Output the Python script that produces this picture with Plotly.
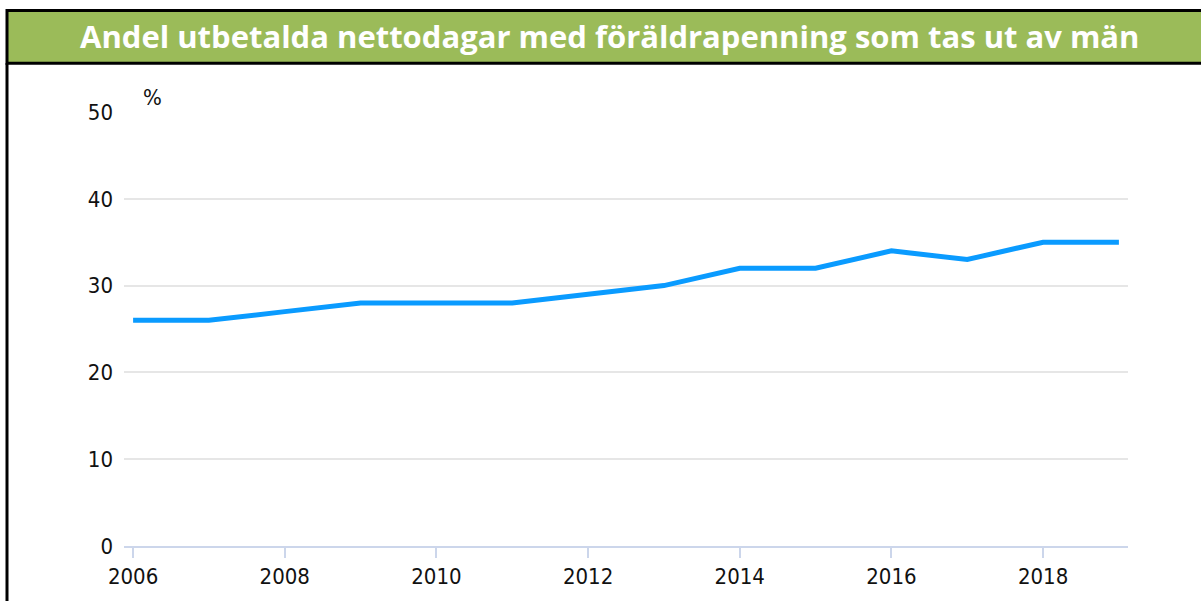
import plotly.graph_objects as go

years = list(range(2006, 2020))
share_men = [26, 26, 27, 28, 28, 28, 29, 30, 32, 32, 34, 33, 35, 35]
y_ticks = [0, 10, 20, 30, 40, 50]
x_ticks = [2006, 2008, 2010, 2012, 2014, 2016, 2018]
title_text = "Andel utbetalda nettodagar med föräldrapenning som tas ut av män"

W, H = 1201, 601
L, R, T, B = 124, 1128, 112, 548

def px(x):
    return (x - L) / (R - L)

def py(y):
    return (B - y) / (B - T)

fig = go.Figure()
fig.add_trace(go.Scatter(
    x=years, y=share_men, mode="lines",
    line=dict(color="#0a9bff", width=5),
    hoverinfo="x+y", showlegend=False,
))

fig.update_layout(
    width=W, height=H,
    margin=dict(l=L, r=W - R, t=T, b=H - B, pad=0),
    paper_bgcolor="white", plot_bgcolor="white",
    font=dict(family="DejaVu Sans Condensed, DejaVu Sans", color="#111111", size=22),
    xaxis=dict(
        range=[2005.88, 2019.12], tickvals=x_ticks, showgrid=False, zeroline=False,
        showline=True, linecolor="#ccd6eb", linewidth=2,
        ticks="outside", ticklen=10, tickwidth=2, tickcolor="#ccd6eb",
        tickfont=dict(size=22), fixedrange=True,
    ),
    yaxis=dict(
        range=[0, 50], tickvals=y_ticks, showgrid=True, gridcolor="#e6e6e6", gridwidth=2,
        zeroline=False, showline=False, ticks="", ticklabelstandoff=10,
        tickfont=dict(size=22), fixedrange=True,
    ),
    shapes=[
        dict(type="rect", xref="paper", yref="paper",
             x0=px(7), x1=px(1215), y0=py(10), y1=py(63),
             fillcolor="#9bbb59", line=dict(color="black", width=3), layer="below"),
        dict(type="line", xref="paper", yref="paper",
             x0=px(7), x1=px(7), y0=py(63), y1=py(620),
             line=dict(color="black", width=3), layer="below"),
    ],
    annotations=[
        dict(text="<b>" + title_text + "</b>", xref="paper", yref="paper",
             x=px(609), y=py(36), xanchor="center", yanchor="middle", showarrow=False,
             font=dict(family="Open Sans", size=31, color="white")),
        dict(text="%", xref="paper", yref="paper",
             x=px(152), y=py(97), xanchor="center", yanchor="middle", showarrow=False,
             font=dict(size=22, color="#111111")),
    ],
)

fig.write_html(
    "out.html",
    config={"displayModeBar": False},
    post_script="document.body.style.margin='0';document.body.style.overflow='hidden';",
)
